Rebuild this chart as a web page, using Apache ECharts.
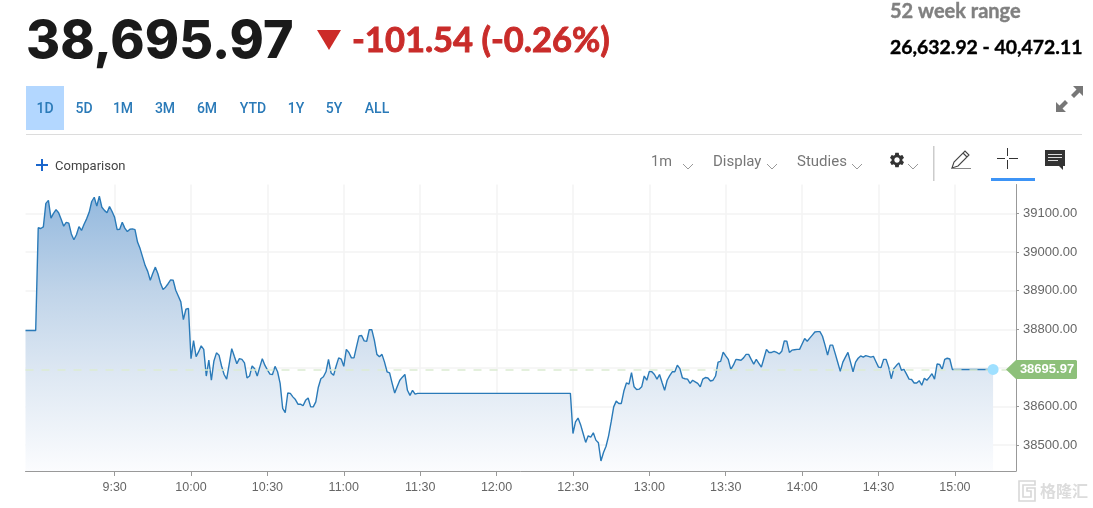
<!DOCTYPE html>
<html><head><meta charset="utf-8">
<style>html,body{margin:0;padding:0;background:#fff}#c{width:1093px;height:508px}</style>
<script src="https://cdn.jsdelivr.net/npm/echarts@6/dist/echarts.min.js"></script>
</head><body><div id="c"></div>
<script>
// minutes counted from 08:55 for each vertex of the line
const pointMinutes = [0,4,5,6,7,8,9,10,11,12,13,14,15,16,17,18,19,20,21,22,23,24,25,26,27,28,29,30,31,32,33,34,35,36,37,38,39,40,41,42,43,44,45,46,47,48,49,50,51,52,53,54,55,56,57,58,59,60,61,62,63,64,65,66,67,68,69,70,71,72,73,74,75,76,77,78,79,80,81,82,83,84,85,86,87,88,89,90,91,92,93,94,95,96,97,98,99,100,101,102,103,104,105,106,107,108,109,110,111,112,113,114,115,116,117,118,119,120,121,122,123,124,125,126,127,128,129,130,131,132,133,134,135,136,137,138,139,140,141,142,143,144,145,146,147,148,149,150,151,152,153,154,214,215,216,217,218,219,220,221,222,223,224,225,226,227,228,229,230,231,232,233,234,235,236,237,238,239,240,241,242,243,244,245,246,247,248,249,250,251,252,253,254,255,256,257,258,259,260,261,262,263,264,265,266,267,268,269,270,271,272,273,274,275,276,277,278,279,280,281,282,283,284,285,286,287,288,289,290,291,292,293,294,295,296,297,298,299,300,301,302,303,304,305,306,307,308,309,310,311,312,313,314,315,316,317,318,319,320,321,322,323,324,325,326,327,328,329,330,331,332,333,334,335,336,337,338,339,340,341,342,343,344,345,346,347,348,349,350,351,352,353,354,355,356,357,358,359,360,361,362,363,364,380];
const pointValues = [38797,38797,39063,39061,39065,39126,39134,39088,39100,39110,39102,39085,39067,39077,39075,39047,39032,39045,39066,39056,39072,39086,39103,39131,39142,39119,39145,39116,39108,39102,39118,39105,39090,39058,39059,39077,39062,39053,39059,39060,39058,39026,39009,38987,38965,38950,38927,38945,38961,38944,38920,38903,38909,38918,38928,38927,38901,38886,38871,38825,38852,38854,38724,38771,38729,38742,38757,38748,38679,38720,38668,38718,38739,38733,38705,38683,38671,38710,38750,38730,38711,38724,38722,38713,38674,38679,38705,38698,38679,38702,38724,38707,38695,38684,38683,38704,38690,38660,38595,38584,38635,38634,38625,38618,38606,38606,38602,38616,38622,38599,38599,38612,38650,38672,38677,38690,38722,38687,38681,38705,38726,38723,38704,38748,38740,38726,38726,38755,38783,38784,38770,38769,38799,38799,38772,38735,38729,38735,38715,38690,38687,38660,38635,38652,38668,38676,38683,38642,38629,38642,38632,38634,38634,38530,38560,38570,38553,38530,38507,38524,38521,38532,38513,38506,38459,38481,38497,38524,38560,38599,38614,38608,38608,38640,38661,38658,38688,38651,38644,38645,38651,38679,38668,38691,38690,38683,38671,38683,38662,38642,38668,38680,38690,38690,38707,38698,38674,38672,38671,38660,38668,38664,38660,38651,38671,38675,38674,38666,38668,38679,38715,38717,38741,38731,38722,38696,38707,38722,38721,38720,38726,38735,38735,38722,38710,38722,38712,38702,38725,38748,38740,38740,38743,38740,38736,38743,38770,38769,38740,38746,38747,38748,38748,38762,38776,38769,38777,38785,38793,38794,38794,38782,38759,38733,38759,38759,38737,38714,38691,38715,38728,38740,38715,38690,38715,38725,38731,38728,38732,38730,38728,38730,38716,38702,38701,38722,38722,38702,38672,38698,38706,38713,38694,38696,38684,38671,38670,38661,38661,38667,38655,38673,38668,38676,38685,38671,38710,38709,38696,38722,38725,38723,38696,38696];
const yTicks = [38500,38600,38700,38800,38900,39000,39100];
const xTickLabels = ['9:30','10:00','10:30','11:00','11:30','12:00','12:30','13:00','13:30','14:00','14:30','15:00'];
const lastPrice = 38695.97;
const tabLabels = ['1D','5D','1M','3M','6M','YTD','1Y','5Y','ALL'];
const tabCentres = [45,84,123,165,207,253,296,334,377];

const startMin = 8*60+55, endMin = 15*60+24;
const categories = [];
for (let m = startMin; m <= endMin; m++) categories.push(Math.floor(m/60)+':'+String(m%60).padStart(2,'0'));
const labelIdx = new Set(xTickLabels.map(l => categories.indexOf(l)));
const lineData = pointMinutes.map((m,i) => [m, pointValues[i]]);

const SANS = 'Roboto, sans-serif';
const HEAD = 'Lato, sans-serif';
const BIG = 'Inter, sans-serif';
const text = (x,y,t,font,fill,align,sw) => ({type:'text',x,y,silent:true,style:Object.assign({text:t,font,fill,textAlign:align||'left',textVerticalAlign:'middle'},sw?{stroke:fill,lineWidth:sw}:{})});
const rect = (x,y,w,h,fill) => ({type:'rect',silent:true,shape:{x,y,width:w,height:h},style:{fill}});
const chevron = (x,y) => ({type:'polyline',silent:true,shape:{points:[[x-5,y-3],[x,y+2],[x+5,y-3]]},style:{stroke:'#999',lineWidth:1,fill:null}});

const iconPaths = {
  gear:'M19.14 12.94c.04-.3.06-.61.06-.94 0-.32-.02-.64-.07-.94l2.03-1.58c.18-.14.23-.41.12-.61l-1.92-3.32c-.12-.22-.37-.29-.59-.22l-2.39.96c-.5-.38-1.03-.7-1.62-.94l-.36-2.54c-.04-.24-.24-.41-.48-.41h-3.84c-.24 0-.43.17-.47.41l-.36 2.54c-.59.24-1.13.57-1.62.94l-2.39-.96c-.22-.08-.47 0-.59.22L2.74 8.87c-.12.21-.08.47.12.61l2.03 1.58c-.05.3-.09.63-.09.94s.02.64.07.94l-2.03 1.58c-.18.14-.23.41-.12.61l1.92 3.32c.12.22.37.29.59.22l2.39-.96c.5.38 1.03.7 1.62.94l.36 2.54c.05.24.24.41.48.41h3.84c.24 0 .44-.17.47-.41l.36-2.54c.59-.24 1.13-.56 1.62-.94l2.39.96c.22.08.47 0 .59-.22l1.92-3.32c.12-.22.07-.47-.12-.61l-2.01-1.58zM12 15.6c-1.98 0-3.6-1.62-3.6-3.6s1.62-3.6 3.6-3.6 3.6 1.62 3.6 3.6-1.62 3.6-3.6 3.6z',
  pencil:'M1 19 L3 13 L14 2 L18 6 L7 17 Z M12 4 L16 8',
  comment:'M0 0 H20 V16 H18 V20 L14 16 H0 Z',
  expand:'M17 0 H27 V10 L23.5 6.5 L18 12 L15 9 L20.5 3.5 Z M0 26 V16 L3.5 19.5 L9 14 L12 17 L6.5 22.5 L10 26 Z',
  gmark:'M0 0 H16 V4 H4 V16 H12 V10 H8 V7 H16 V20 H0 Z'
};
Object.keys(iconPaths).forEach(k => echarts.graphic.registerShape('ic_'+k, echarts.graphic.extendPath(iconPaths[k],{})));
const icon = (k,x,y,s,style) => ({type:'ic_'+k,silent:true,x,y,scaleX:s,scaleY:s,style});

const graphics = [
  text(26,42,'38,695.97','800 52px '+BIG,'#1a1a1a'),
  {type:'polygon',silent:true,shape:{points:[[317,30],[341,30],[329,50]]},style:{fill:'#cc2b28'}},
  text(352,41,'-101.54 (-0.26%)','700 34.5px '+HEAD,'#c92c2a','left',0.9),
  text(890,12,'52 week range','700 20px '+HEAD,'#808080','left',0.4),
  text(890,48,'26,632.92 - 40,472.11','700 19.4px '+HEAD,'#000','left',0.4),
  rect(26,86,38,44,'#b3d7ff'),
  rect(26,134,1056,1,'#dcdcdc'),
  rect(36,164,12,2,'#1a66cc'), rect(41,159,2,12,'#1a66cc'),
  text(55,167,'Comparison','13px '+SANS,'#444'),
  text(651,162,'1m','14.5px '+SANS,'#777'), chevron(688,167),
  text(713,162,'Display','15px '+SANS,'#777'), chevron(772,167),
  text(797,162,'Studies','15px '+SANS,'#777'), chevron(857,167),
  icon('gear',888,151,0.75,{fill:'#333'}),
  chevron(913,167),
  rect(933,146,1.5,35,'#ccc'),
  icon('pencil',951,149,1,{fill:'none',stroke:'#444',lineWidth:1.1}),
  rect(951,168,20,1,'#888'),
  rect(997,158,8,1,'#333'), rect(1009,158,9,1,'#333'), rect(1007,148,1,8,'#333'), rect(1007,160,1,9,'#333'),
  rect(991,178,44,3,'#3d94f6'),
  icon('comment',1045,150,1,{fill:'#333'}),
  rect(1048,154,14,1,'#ddd'), rect(1048,157,14,1,'#ddd'), rect(1048,160,10,1,'#ddd'),
  icon('expand',1056,86,1,{fill:'#777'}),
  icon('gmark',1019,481,1,{fill:'none',stroke:'#d8d8d8',lineWidth:1.6}),
  text(1040,491,'格隆汇','700 16px "Noto Sans CJK SC"','#dcdcdc')
];
tabLabels.forEach((t,i) => graphics.push(text(tabCentres[i],109,t,'500 14px '+SANS,'#2a7ab8','center')));

const chart = echarts.init(document.getElementById('c'), null, {renderer:'canvas'});
chart.setOption({
  animation:false,
  backgroundColor:'#fff',
  graphic:graphics,
  grid:{left:25.5,top:184.5,width:990.5,height:286.5,containLabel:false},
  xAxis:{
    type:'category',boundaryGap:false,data:categories,
    axisLine:{lineStyle:{color:'#999',width:1}},
    axisTick:{interval:(i)=>labelIdx.has(i),length:5,lineStyle:{color:'#999'},alignWithLabel:true},
    axisLabel:{interval:(i)=>labelIdx.has(i),color:'#666',fontFamily:'"Liberation Sans", Arial',fontSize:12.5,margin:10},
    splitLine:{show:true,interval:(i)=>labelIdx.has(i),lineStyle:{color:'#f3f3f3',width:1.5}}
  },
  yAxis:{
    type:'value',position:'right',min:38433,max:39175,scale:true,
    axisLine:{show:true,lineStyle:{color:'#999',width:1}},
    axisTick:{show:true,length:3,lineStyle:{color:'#999'},customValues:yTicks},
    axisLabel:{color:'#666',fontFamily:'"Liberation Sans", Arial',fontSize:13,margin:7,customValues:yTicks,formatter:v=>v.toFixed(2)},
    splitLine:{show:true,lineStyle:{color:'#f3f3f3',width:1.5}}
  },
  series:[
    {type:'line',data:lineData,showSymbol:false,symbol:'none',smooth:false,z:3,
     lineStyle:{color:'#2a7ab8',width:1.4},
     areaStyle:{origin:'start',opacity:1,color:new echarts.graphic.LinearGradient(0,0,0,1,[{offset:0,color:'#94b9de'},{offset:0.35,color:'#c0d4e9'},{offset:0.65,color:'#deE8f3'},{offset:1,color:'#fbfcfe'}])},
     markLine:{silent:true,symbol:'none',label:{show:false},data:[{yAxis:lastPrice}],z:4,lineStyle:{color:'#dcecd2',type:[8,8],width:1.5}}
    },
    {type:'scatter',data:[[pointMinutes[pointMinutes.length-1],lastPrice]],symbolSize:11,itemStyle:{color:'#9fe0ff',opacity:1},z:6},
    {type:'custom',clip:false,z:7,silent:true,data:[[categories.length-1,lastPrice]],
     renderItem:(p,api)=>{
       const c=api.coord([api.value(0),api.value(1)]);
       const x=c[0],y=c[1];
       return {type:'group',children:[
         {type:'polygon',shape:{points:[[x-10,y],[x,y-9.5],[x+60,y-9.5],[x+61,y-8.5],[x+61,y+8.5],[x+60,y+9.5],[x,y+9.5]]},style:{fill:'#8dc07a'}},
         {type:'text',style:{x:x+31,y:y,text:lastPrice.toFixed(2),fill:'#fff',font:'700 13px "Liberation Sans", Arial',textAlign:'center',textVerticalAlign:'middle'}}
       ]};
     }}
  ]
});
</script></body></html>
